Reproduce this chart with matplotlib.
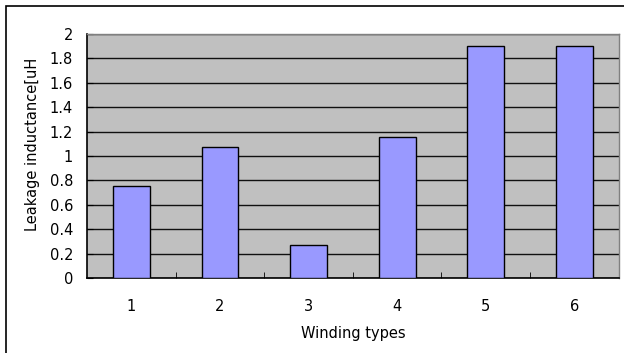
import matplotlib
matplotlib.use('Agg')
import matplotlib.pyplot as plt
from matplotlib.patches import Rectangle

types = [1, 2, 3, 4, 5, 6]
inductance = [0.757, 1.071, 0.27, 1.158, 1.90, 1.90]
yticks = [0, 0.2, 0.4, 0.6, 0.8, 1, 1.2, 1.4, 1.6, 1.8, 2]
ytick_labels = ['0', '0.2', '0.4', '0.6', '0.8', '1', '1.2', '1.4', '1.6', '1.8', '2']

plt.rcParams['font.family'] = ['DejaVu Sans']

fig = plt.figure(figsize=(6.24, 3.53), dpi=100)
ax = fig.add_axes([87/624, 1-278/353, (618.7-87)/624, (278-34)/353])

# outer chart border (left and top visible)
fig.patches.append(Rectangle((6/624, -0.1), 1.2, 1 - 6/353 + 0.1,
                             transform=fig.transFigure, fill=False,
                             edgecolor='black', linewidth=1.2))

ax.set_facecolor('#C0C0C0')
x = list(range(len(types)))
ax.bar(x, inductance, width=0.414, color='#9999FF', edgecolor='black',
       linewidth=1, zorder=3)

ax.set_xlim(-0.5, len(types) - 0.5)
ax.set_ylim(0, 2)
ax.set_yticks(yticks)
ax.set_yticklabels(ytick_labels, fontsize=10.5)
ax.set_xticks(x)
ax.set_xticklabels([str(t) for t in types], fontsize=10.5)
ax.tick_params(axis='x', length=0, pad=15)
ax.tick_params(axis='y', direction='in', length=4, pad=10, color='black')
ax.set_xticks([i + 0.5 for i in range(len(types) - 1)], minor=True)
ax.tick_params(axis='x', which='minor', direction='in', length=4, color='black')

ax.yaxis.grid(True, color='#101010', linewidth=1)
ax.set_axisbelow(True)

for s in ['top', 'right']:
    ax.spines[s].set_color('#808080')
    ax.spines[s].set_linewidth(1)
for s in ['left', 'bottom']:
    ax.spines[s].set_color('black')
    ax.spines[s].set_linewidth(1.2)

ax.set_xlabel('Winding types', fontsize=10.5, labelpad=9)
fig.text(33/624, 1-144/353, 'Leakage inductance[uH', rotation=90,
         fontsize=10.5, ha='center', va='center')

fig.savefig('out.png', dpi=100)
